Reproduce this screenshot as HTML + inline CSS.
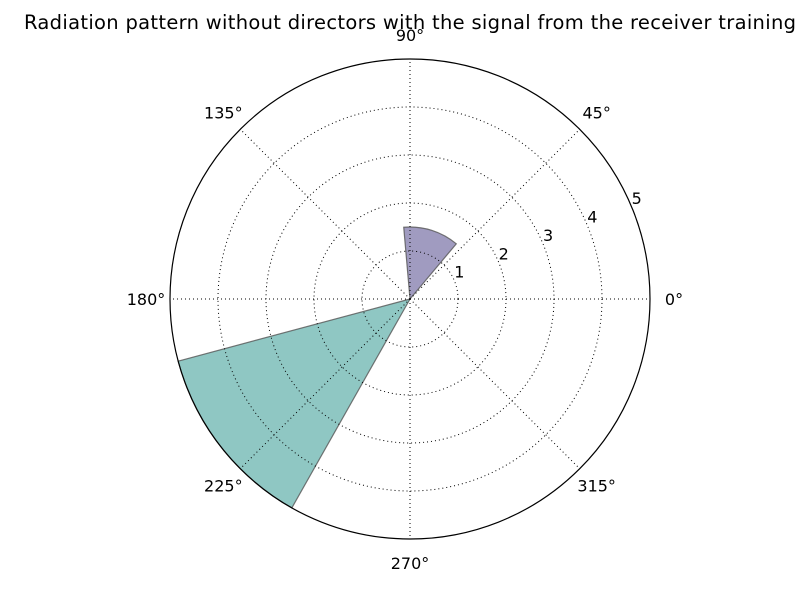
<!DOCTYPE html>
<html><head><meta charset="utf-8"><style>
body{margin:0;background:#fff;}
svg text{font-family:"DejaVu Sans","Liberation Sans",sans-serif;}
</style></head><body>
<svg id="chart" width="800" height="600" xmlns="http://www.w3.org/2000/svg">
<rect width="800" height="600" fill="#fff"/>
<text x="24" y="29" font-size="19.5" textLength="772" lengthAdjust="spacing">Radiation pattern without directors with the signal from the receiver training</text>
<g id="bars"></g><g id="grid"></g><g id="labels"></g>
</svg>
<script>
const barStarts = [50, 195];
const barWidths = [45, 45.5];
const barValues = [1.5, 5];
const barColors = ['#a09bc0', '#8fc7c3'];
const radialTicks = [1, 2, 3, 4, 5];
const angleTicks = [0, 45, 90, 135, 180, 225, 270, 315];
const rMax = 5;
const cx = 410, cy = 299, R = 240;
const NS = 'http://www.w3.org/2000/svg';
function rs(v){return v / rMax * R;}
function pt(deg, r){const a = deg*Math.PI/180; return [cx + r*Math.cos(a), cy - r*Math.sin(a)];}
function mk(tag, attrs, parent){const e=document.createElementNS(NS,tag);for(const k in attrs)e.setAttribute(k,attrs[k]);parent.appendChild(e);return e;}
const grid=document.getElementById('grid'), bars=document.getElementById('bars'), labels=document.getElementById('labels');
radialTicks.forEach(v=>{
  if(v<rMax){
    const c=mk('circle',{cx:cx,cy:cy,r:rs(v),fill:'none',stroke:'#000','stroke-width':1,'stroke-dasharray':'1,3'},grid);
    
    
  }
  const p=pt(22.5,rs(v));
  const t=mk('text',{x:p[0]+5,y:p[1]-3,'font-size':16,'text-anchor':'middle'},labels);
  t.textContent=v;
  
  
});
angleTicks.forEach(a=>{
  const p=pt(a,R);
  const l=mk('line',{x1:cx,y1:cy,x2:p[0],y2:p[1],stroke:'#000','stroke-width':1,'stroke-dasharray':'1,3'},grid);
  
  
  const q=pt(a,R+24);
  const t=mk('text',{x:q[0],y:q[1]+6,'font-size':16,'text-anchor':'middle'},labels);
  t.textContent=a+'°';
  
  
});
barStarts.forEach((s,i)=>{
  const r=rs(barValues[i]); const e=s+barWidths[i];
  const p1=pt(s,r), p2=pt(e,r);
  const d=`M${cx},${cy} L${p1[0]},${p1[1]} A${r},${r} 0 0 0 ${p2[0]},${p2[1]} Z`;
  const b=mk('path',{d:d,fill:barColors[i],stroke:'#555','stroke-opacity':0.8,'stroke-width':1.2},bars);
  
  
});
const o=mk('circle',{cx:cx,cy:cy,r:R,fill:'none',stroke:'#000','stroke-width':1.2},document.getElementById('chart'));


</script>
</body></html>
